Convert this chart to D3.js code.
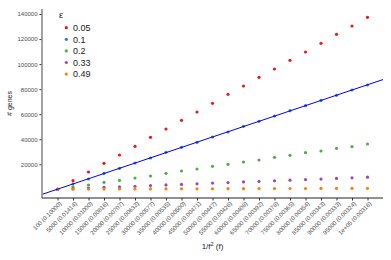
<!DOCTYPE html>
<html>
<head>
<meta charset="utf-8">
<script src="https://cdn.jsdelivr.net/npm/d3@7"></script>
<style>
  body { margin: 0; background: #fff; }
  text { font-family: 'Liberation Sans', Arial, sans-serif; }
</style>
</head>
<body>
<div id="chart"></div>
<script>
const sizes = ['100', '5000', '10000', '15000', '20000', '25000', '30000', '35000', '40000', '45000',
  '50000', '55000', '60000', '65000', '70000', '75000', '80000', '85000', '90000', '95000', '1e+05']
const freqs = ['0.10000', '0.01414', '0.01000', '0.00816', '0.00707', '0.00632', '0.00577', '0.00535',
  '0.00500', '0.00471', '0.00447', '0.00426', '0.00408', '0.00392', '0.00378', '0.00365', '0.00354',
  '0.00343', '0.00333', '0.00324', '0.00316']

const epsilons = ['0.05', '0.1', '0.2', '0.33', '0.49']
const colors = ['#e41a1c', '#377eb8', '#4daf4a', '#984ea3', '#ff7f00']

const genes005 = [140, 6900, 13850, 20800, 27430, 34370, 41560, 48180, 55130, 61760, 68700,
  75890, 82510, 89460, 96090, 103030, 109660, 116610, 123790, 130420, 137360]
const genes01 = [85, 4270, 8260, 12810, 16810, 21040, 25030, 29580, 33570, 37560, 41800,
  45790, 50340, 54330, 58560, 62800, 66790, 71100, 75090, 79320, 83310]
const genes02 = [40, 1880, 3470, 5630, 7230, 9060, 10660, 12810, 14650, 16250, 18400,
  20000, 21840, 23430, 25590, 27190, 29260, 30620, 32770, 34050, 36210]
const genes033 = [20, 600, 1100, 1600, 2100, 2500, 3000, 3500, 3900, 4400, 5000,
  5400, 5900, 6300, 6800, 7300, 7800, 8200, 8700, 9200, 9700]
const genes049 = [5, 150, 200, 250, 280, 320, 360, 380, 420, 460, 500,
  530, 560, 600, 630, 670, 700, 730, 760, 800, 830]

const yTicks = [20000, 40000, 60000, 80000, 100000, 120000, 140000]

const series = [genes005, genes01, genes02, genes033, genes049]

const width = 391
const height = 260
const panel = { left: 42, right: 383, top: 9, bottom: 198 }

const svg = d3.select('#chart').append('svg')
  .attr('width', width)
  .attr('height', height)

const x = d3.scalePoint().domain(sizes).range([panel.left, panel.right]).padding(1)
const y = d3.scaleLinear().domain([-6900, 144000]).range([panel.bottom, panel.top])

// points
series.forEach((vals, k) => {
  svg.append('g')
    .selectAll('circle')
    .data(vals)
    .join('circle')
    .attr('cx', (d, i) => x(sizes[i]))
    .attr('cy', d => y(d))
    .attr('r', 1.6)
    .attr('fill', colors[k])
})

// linear fit through the 0.1 series, drawn across the whole panel
const idx = genes01.map((d, i) => i)
const mx = d3.mean(idx)
const my = d3.mean(genes01)
const slope = d3.sum(idx, i => (i - mx) * (genes01[i] - my)) / d3.sum(idx, i => (i - mx) * (i - mx))
const icpt = my - slope * mx
const step = x.step()
const idxToPx = i => x(sizes[0]) + i * step
const pxToIdx = px => (px - x(sizes[0])) / step

svg.append('defs').append('clipPath').attr('id', 'clip')
  .append('rect')
  .attr('x', panel.left).attr('y', panel.top)
  .attr('width', panel.right - panel.left).attr('height', panel.bottom - panel.top)

const i0 = pxToIdx(panel.left)
const i1 = pxToIdx(panel.right)
svg.append('line')
  .attr('clip-path', 'url(#clip)')
  .attr('x1', idxToPx(i0)).attr('y1', y(icpt + slope * i0))
  .attr('x2', idxToPx(i1)).attr('y2', y(icpt + slope * i1))
  .attr('stroke', '#0000ff')
  .attr('stroke-width', 1)

// y axis
const yAxis = svg.append('g')
  .attr('transform', 'translate(' + panel.left + ',0)')
  .call(d3.axisLeft(y).tickValues(yTicks).tickFormat(d3.format('d')).tickSize(2.5).tickPadding(2))
yAxis.select('.domain').remove()
yAxis.selectAll('line').attr('stroke', '#333')
yAxis.selectAll('text').attr('font-size', 6).attr('fill', '#4d4d4d')
svg.append('line')
  .attr('x1', panel.left).attr('x2', panel.left)
  .attr('y1', panel.top).attr('y2', panel.bottom)
  .attr('stroke', '#8c8c8c').attr('stroke-width', 1.6)

// x axis
const xAxis = svg.append('g')
  .attr('transform', 'translate(0,' + panel.bottom + ')')
  .call(d3.axisBottom(x).tickSize(2.5).tickFormat((d, i) => d + ' (' + freqs[i] + ')'))
xAxis.select('.domain').remove()
xAxis.selectAll('line').attr('stroke', '#333')
xAxis.selectAll('text')
  .attr('font-size', 6)
  .attr('fill', '#4d4d4d')
  .attr('text-anchor', 'end')
  .attr('dy', null)
  .attr('y', 0)
  .attr('transform', 'translate(4,6) rotate(-45)')
svg.append('line')
  .attr('x1', panel.left).attr('x2', panel.right)
  .attr('y1', panel.bottom).attr('y2', panel.bottom)
  .attr('stroke', '#222').attr('stroke-width', 1)

// axis titles
svg.append('text')
  .attr('x', (panel.left + panel.right) / 2)
  .attr('y', 249)
  .attr('text-anchor', 'middle')
  .attr('font-size', 8)
  .attr('fill', '#222')
  .html('1/f<tspan dy="-3" font-size="5.5">2</tspan><tspan dy="3"> (f)</tspan>')

svg.append('text')
  .attr('transform', 'translate(12,' + (panel.top + panel.bottom) / 2 + ') rotate(-90)')
  .attr('text-anchor', 'middle')
  .attr('font-size', 7)
  .attr('fill', '#222')
  .text('# genes')

// legend
const legend = svg.append('g').attr('transform', 'translate(59,0)')
legend.append('text')
  .attr('x', 0).attr('y', 18)
  .attr('font-size', 9)
  .attr('fill', '#222')
  .text('ε')
epsilons.forEach((e, k) => {
  const ly = 27.7 + k * 11.6
  legend.append('circle')
    .attr('cx', 7.3).attr('cy', ly).attr('r', 1.6).attr('fill', colors[k])
  legend.append('text')
    .attr('x', 14).attr('y', ly + 3.3)
    .attr('font-size', 9)
    .attr('fill', '#222')
    .text(e)
})
</script>
</body>
</html>
